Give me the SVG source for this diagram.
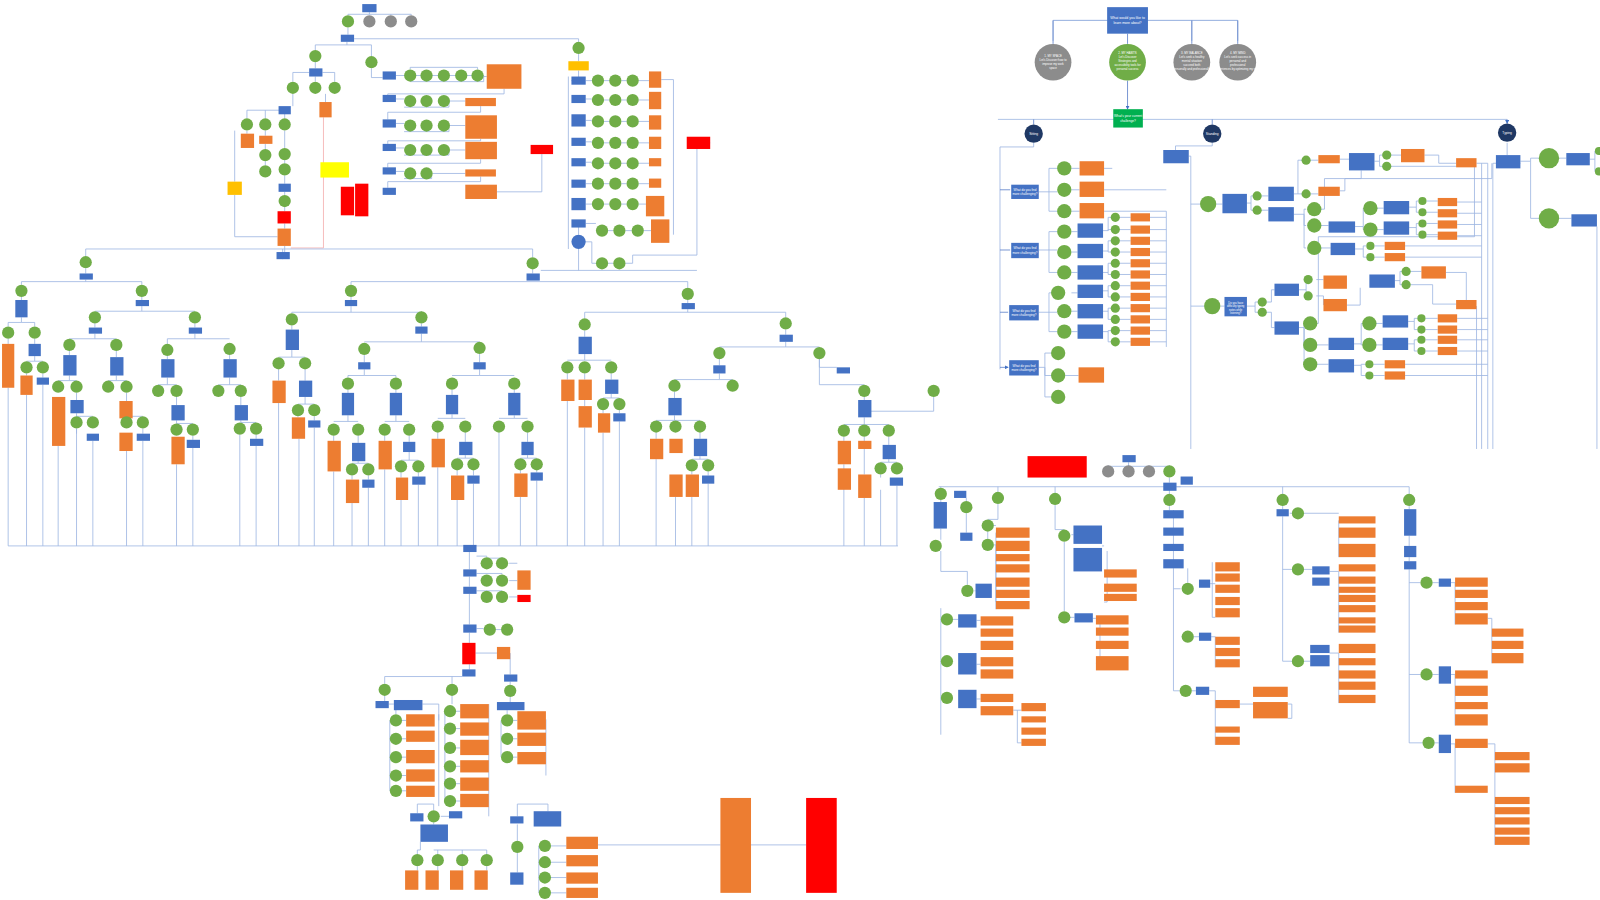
<svg xmlns="http://www.w3.org/2000/svg" width="1600" height="900" viewBox="0 0 1600 900">
<defs>
<style>
.b{fill:#4472C4}.o{fill:#ED7D31}.g{fill:#70AD47}.k{fill:#8C8C8C}.n{fill:#1F3864}.r{fill:#FF0000}.y{fill:#FFFF00}.au{fill:#FFC000}.gg{fill:#00B050}
.c{fill:none;stroke:#9DB5E2;stroke-width:.8}.ca{fill:none;stroke:#5B7FC9;stroke-width:.8;marker-end:url(#a)}.p{fill:none;stroke:#F4B6B6;stroke-width:.9}
.t{font-family:"Liberation Sans",Arial,sans-serif;fill:#fff;text-anchor:middle}.tk{font-family:"Liberation Sans",Arial,sans-serif;fill:#000;text-anchor:middle}
</style>
<marker id="a" markerWidth="4" markerHeight="4" refX="3.5" refY="2" orient="auto" markerUnits="userSpaceOnUse"><path d="M0,0L4,2L0,4z" fill="#4472C4"/></marker>
</defs>
<rect width="1600" height="900" fill="#fff"/>
<g transform="scale(1.0204)">
<g id="connectors">
<!-- top-left cluster -->
<path class="c" d="M362,12V14M341,14H403M341,14V15M383,14V15M403,14V15M341,27V34M347,38H567V41M340,41V44H309V49M340,44H364V55M309,61V67M309,75V80M303,71H287V80M316,71H328V80M287,92V104M279,108H242V116M279,108V116M260,108V116M319,92V100M364,67V76H375M388,74H396M402,68V66H468V68M396,74H474V80H402M388,97H396M396,105H440V99M388,121H396M396,129H440V123M388,145H396M396,152H440V147M388,168H396M396,175H423V170M474,75H477M441,99H456M441,123H456M441,147H456M424,170H456M494,87V92H380V93M471,104V110H380V117M471,136V138H380V141M471,156V160H380V164M471,173V178H380V184M487,188H531V151M242,128V131M260,128V133M260,141V146M279,128V145M279,157V160M260,158V162M279,172V180M279,188V191M279,203V207M279,219V224M279,241V247M230,178V128M230,191V232H272"/>
<path class="p" d="M317,115V243H285"/>
<path class="c" d="M567,53V60M567,69V79H560M574,79H580M592,79H597M609,79H614M626,79H636M574,97H580M592,98H597M609,98H614M626,98H636M574,118H580M592,119H597M609,119H614M626,119H636M574,139H580M592,140H597M609,140H614M626,140H636M574,159H580M592,160H597M609,160H614M626,160H636M574,180H580M592,180H597M609,180H614M626,180H636M574,200H580M592,200H597M609,200H614M626,200H633M574,219H584M596,226H601M613,226H619M631,226H638M557,75V244M567,230V219M573,237H580V258H584M596,258H601M613,258H620V250H683V146M648,78H660V230M684,140H696M530,265H683M567,244V265"/>
<!-- tree -->
<path class="c" d="M84,244H522M84,244V251M522,244V252M277,244V254M84,263V268M522,264V268M84,274V276M21,276H139M21,276V279M139,276V279M21,291V294M139,291V294M21,311V316H8V320M21,316H34V320M8,332V337M34,332V337M34,349V354H26M34,354H42M42,366V370M26,366V368M139,300V305H93M139,305H191M93,305V305M191,305V305M93,317V321M191,317V321M93,327V332H68M93,332H114M191,327V332H164M191,332H225M164,332V337M68,344V348M114,344V350M164,349V352M225,348V352M68,368V373H57M68,373H75M114,368V373H106M114,373H124M164,370V377H155M164,377H173M225,370V377H214M225,377H236M75,385V392M124,385V393M173,389V397M236,389V397M75,405V408H91M124,410V408H140M173,412V415H189M236,412V414H251M75,420V425M140,420V425M189,427V431M251,426V430"/>
<path class="c" d="M344,276H674M344,276V279M674,276V282M344,291V294M344,300V306H286M344,306H413M286,306V307M413,306V305M286,319V323M413,317V320M286,343V350H273M286,350H299M413,327V335H357M413,335H470M273,362V373M299,362V373M357,348V355M470,347V355M357,362V368H341M357,368H388M341,370V368M388,370V368M470,362V368H443M470,368H504M299,389V396H292M299,396H308M308,408V412M292,408V409M341,382V385M388,382V385M443,382V387M504,382V385M341,407V413H327M341,413H351M388,407V413H377M388,413H401M443,406V410H429M443,410H456M504,407V410H489M504,410H517M327,427V432M351,427V434M377,427V432M401,427V433M429,424V430M456,424V433M517,424V433M351,452V454H345M351,454H361M401,443V451H393M401,451H410M456,446V449H448M456,449H464M517,446V449H510M517,449H526M345,466V470M361,466V470M393,463V468M410,463V467M448,461V466M464,461V466M510,461V464M526,461V463"/>
<path class="c" d="M674,294V297M674,303V306H573M674,306H770M573,306V312M770,306V311M573,324V330M770,323V328M573,347V353H556M573,353H599M556,366V372M599,366V372M599,386V390H591M599,390H607M573,366V372M573,392V398M591,402V405M607,402V405M770,335V340H705M770,340H803M705,352V358M803,352V360H820M705,366V372H661M705,372H718M661,384V390M661,407V412H643M661,412H686M662,412V412M643,424V430M686,424V430M686,447V450H678M686,450H694M678,462V465M694,462V466M803,352V377H847M847,377V377M847,389V392M847,409V416H827M847,416H871M871,428V436M871,450V453H863M871,453H879M863,465V468M915,389V403H847M827,428V432M847,428V465"/>
<path class="c" d="M8,380V535H880M26,387V535M42,377V535M57,437V535M75,420V535M91,432V535M124,442V535M140,432V535M173,455V535M189,439V535M235,426V535M251,437V535M273,395V535M293,430V535M308,419V535M327,462V535M345,493V535M361,478V535M377,460V535M393,490V535M410,475V535M429,458V535M448,490V535M464,474V535M489,424V535M510,487V535M526,471V535M556,393V535M573,419V535M591,424V535M607,413V535M643,450V535M662,487V535M678,487V535M694,474V535M827,455V535M847,488V535M863,480V535M879,476V535M460,535V541"/>
<!-- bottom middle -->
<path class="c" d="M460,541V558M460,565V575M467,545H477V546M492,546V547H477M467,562H492V563M467,579H492V579M499,552H507M499,569H507M499,585H507M460,582V612M467,616H474M486,617H491M460,620V630M460,651V656M466,640H487M500,640H500V661M500,668V671M377,670V663H453M443,670V663M377,682V687M381,690H386M414,690H430V706M388,694V700M394,706H398M394,724H398M394,742H398M394,760H398M394,775H398M382,706V775M430,700V790M443,682V690M447,697H451M447,714H451M447,733H451M447,751H451M447,768H451M447,785H451M436,697V785M479,690V800M500,683V688M497,696V700M503,706H507M503,724H507M503,742H507M491,706V742M535,705V760M425,794V788H409V797M432,800H440M425,806V808M412,825V833H409V837M425,833H477V837M429,833V837M453,833V837M409,849V853M429,849V853M453,849V853M477,849V853M537,795V788H507V800M507,808V824M507,836V855M528,829V875M540,829H555M540,845H555M540,860H555M540,875H555M586,828H706M736,828H790"/>
<!-- top right -->
<path class="c" d="M1032,40V20H1213V40M1168,20V40M1085,20H1032M1125,20H1213"/>
<path class="ca" d="M1032,20V43M1168,20V43M1213,20V43M1105,33V43M1105,79V107"/>
<path class="c" d="M978,117H1477"/>
<path class="ca" d="M1013,117V122M1188,117V122M1477,117V121"/>
<!-- sitting -->
<path class="c" d="M1013,140V144H980V362M1018,188H1028V165H1036M1028,188H1036M1028,188V207H1036M1050,165H1058M1050,186H1058M1050,207H1058M1018,245H1028V227H1036M1028,245H1036M1028,245V267H1036M1050,227H1056M1050,247H1056M1050,267H1056M1081,226H1086V213H1089M1086,226V225H1089M1081,246H1086V236H1089M1086,246V247H1089M1081,267H1086V258H1089M1086,267V269H1089M1097,213H1108M1097,225H1108M1097,236H1108M1097,247H1108M1097,258H1108M1097,269H1108M1097,280H1108M1097,291H1108M1097,302H1108M1097,313H1108M1097,324H1108M1097,335H1108M1018,306H1028V287H1030M1028,306H1036M1028,306V325H1036M1050,305H1056M1050,325H1056M1050,287H1056M1081,285H1086V280H1089M1086,285V291H1089M1081,305H1086V302H1089M1086,305V313H1089M1081,325H1086V324H1089M1086,325V335H1089M1018,360H1024V346H1030M1024,360V368H1030M1024,360V389H1030M1044,368H1057M1127,213H1143V340M1127,225H1143M1127,236H1143M1127,247H1143M1127,258H1143M1127,269H1143M1127,280H1143M1127,291H1143M1127,302H1143M1127,313H1143M1127,324H1143M1127,335H1143M1082,165H1090M1082,186H1143M1082,207H1143V213"/>
<path class="ca" d="M980,186H990M980,245H990M980,306H988M980,360H988"/>
<!-- standing -->
<path class="c" d="M1188,140V143H1152V147M1165,153H1167V300H1180M1167,200H1176M1192,200H1198M1222,199H1226V192H1228M1226,199V206H1228M1236,192H1243M1236,206H1243M1268,190H1272V157H1276M1272,190H1276M1284,157H1292M1284,190H1292M1313,156H1322M1313,187H1318V175H1334V167M1347,158H1352V152H1355M1352,158V163H1355M1363,152H1373M1363,163H1377V163H1427M1396,152H1410V160H1427M1268,210H1278V205H1280M1278,210V221H1280M1278,210V243H1280M1292,205H1298V175H1462V160M1292,221H1302M1292,243H1304M1328,222H1336V204H1339M1336,222V225H1339M1347,204H1356M1347,225H1356M1381,203H1388V197H1390M1388,203V208H1390M1381,223H1388V219H1390M1388,223V230H1390M1398,197H1409M1398,208H1409M1398,219H1409M1398,230H1409M1328,244H1336V241H1339M1336,244V252H1339M1347,241H1357M1347,252H1357M1428,198H1452M1428,209H1452M1428,220H1452M1428,231H1452M1377,241H1452M1377,252H1452M1447,160H1458V440M1452,160V440M1196,300H1200M1222,300H1230V296H1233M1230,300V306H1233M1241,296H1246V284H1249M1241,306H1246V321H1249M1273,284H1280V274H1282M1280,284V290H1282M1290,274H1297M1290,290H1297V299M1320,299H1333V282M1367,275H1372V266H1374M1372,275V279H1374M1382,266H1393M1382,279H1404V298H1427M1417,267H1437V294M1273,321H1278V317H1280M1278,321V338H1280M1278,321V357H1280M1288,317H1292V232H1445V160M1288,338H1302M1288,357H1302M1327,337H1334V317H1338M1334,337V338H1338M1346,317H1355M1346,338H1355M1380,315H1386V312H1389M1386,315V323H1389M1380,337H1386V333H1389M1386,337V344H1389M1397,312H1409M1397,323H1409M1397,333H1409M1397,344H1409M1327,358H1334V357H1338M1334,358V368H1338M1346,357H1357M1346,368H1357M1428,312H1458M1428,323H1458M1428,333H1458M1428,344H1458M1377,357H1458M1377,368H1458M1167,300V440M1447,300V440"/>
<!-- typing -->
<path class="c" d="M1477,140V152M1490,158H1500V155H1508M1500,158V214H1508M1528,155H1535M1528,214H1540M1558,156H1563V148M1563,156V168M1565,222V440M1490,160H1463V440"/>
<!-- bottom right -->
<path class="c" d="M1106,453V457H1086V456M1106,457H1146V456M1126,457V456M1106,457V456M1146,468V473M1153,477H1157M920,477H1381M922,477V478M978,477V482M1034,477V483M1146,477V484M1257,477V484M1381,477V484M922,490V492M922,518V529M941,485H935M947,488V491M947,503V522M978,494V509H968M968,521V528M974,515H976M974,534H976V590M976,522V597M948,573V560H922V540M955,579H956M922,596V720M922,607H922M933,607H939M957,608H961M957,651H961M957,685H961M993,696H1001M997,696V728H1001M1034,495V519H1043M1043,531V599M1050,524H1052M1080,535H1082M1085,540V590H1082M1048,605H1053M1071,606H1074M1078,606V650H1074M1146,496V500M1150,500V557M1150,577H1157M1164,571V557M1186,572H1191M1188,551V605H1191M1150,557V677M1158,624H1164M1170,624H1175M1187,624H1191V654M1150,677H1156M1168,677H1172M1185,677H1191V730M1215,690H1228M1262,690H1266V704H1262M1257,496V499M1257,506V648M1264,503H1266M1278,503H1312M1312,510V546M1257,558H1266M1278,558H1286M1303,560H1312V620M1257,648H1266M1278,648H1284M1303,640H1312V689M1381,496V499M1381,525V535M1381,546V550M1381,558V728H1394M1381,571H1392M1404,571H1410M1422,571H1426V612M1458,606H1462V650M1381,661H1392M1404,661H1410M1422,661H1426V711M1406,728H1410M1422,729H1426V777M1458,729H1465V828"/>
</g>

<!-- ========== NODES ========== -->
<g id="top-left">
<rect id="tl1" class="b" x="355" y="4" width="14" height="8"/>
<circle id="tl2" class="g" cx="341" cy="21" r="6"/>
<circle id="tl3" class="k" cx="362" cy="21" r="6"/>
<circle id="tl4" class="k" cx="383" cy="21" r="6"/>
<circle id="tl5" class="k" cx="403" cy="21" r="6"/>
<rect id="tl6" class="b" x="334" y="34" width="13" height="7"/>
<circle class="g" cx="309" cy="55" r="6"/><circle class="g" cx="364" cy="61" r="6"/>
<rect class="b" x="303" y="67" width="13" height="8"/>
<circle class="g" cx="287" cy="86" r="6"/><circle class="g" cx="309" cy="86" r="6"/><circle class="g" cx="328" cy="86" r="6"/>
<rect class="o" x="313" y="100" width="12" height="15"/>
<rect class="b" x="273" y="104" width="12" height="8"/>
<circle class="g" cx="242" cy="122" r="6"/><circle class="g" cx="260" cy="122" r="6"/><circle class="g" cx="279" cy="122" r="6"/>
<rect class="o" x="236" y="131" width="13" height="14"/><rect class="o" x="254" y="133" width="13" height="8"/>
<circle class="g" cx="260" cy="152" r="6"/><circle class="g" cx="279" cy="151" r="6"/>
<circle class="g" cx="260" cy="168" r="6"/><circle class="g" cx="279" cy="166" r="6"/>
<rect class="au" x="223" y="178" width="14" height="13"/>
<rect class="b" x="273" y="180" width="12" height="8"/>
<circle class="g" cx="279" cy="197" r="6"/>
<rect class="r" x="272" y="207" width="13" height="12"/>
<rect class="o" x="272" y="224" width="13" height="17"/>
<rect class="b" x="271" y="247" width="13" height="7"/>
<rect class="y" x="314" y="159" width="28" height="15"/>
<rect class="r" x="334" y="183" width="13" height="28"/><rect class="r" x="348" y="180" width="13" height="32"/>
<rect class="b" x="375" y="70" width="13" height="8"/><rect class="b" x="375" y="93" width="13" height="7"/><rect class="b" x="375" y="117" width="13" height="8"/><rect class="b" x="375" y="141" width="13" height="7"/><rect class="b" x="375" y="164" width="13" height="7"/><rect class="b" x="375" y="184" width="13" height="7"/>
<circle class="g" cx="402" cy="74" r="6"/><circle class="g" cx="418" cy="74" r="6"/><circle class="g" cx="435" cy="74" r="6"/><circle class="g" cx="452" cy="74" r="6"/><circle class="g" cx="468" cy="74" r="6"/>
<circle class="g" cx="402" cy="99" r="6"/><circle class="g" cx="418" cy="99" r="6"/><circle class="g" cx="435" cy="99" r="6"/>
<circle class="g" cx="402" cy="123" r="6"/><circle class="g" cx="418" cy="123" r="6"/><circle class="g" cx="435" cy="123" r="6"/>
<circle class="g" cx="402" cy="147" r="6"/><circle class="g" cx="418" cy="147" r="6"/><circle class="g" cx="435" cy="147" r="6"/>
<circle class="g" cx="402" cy="170" r="6"/><circle class="g" cx="418" cy="170" r="6"/>
<rect class="o" x="477" y="63" width="34" height="24"/><rect class="o" x="456" y="96" width="30" height="8"/><rect class="o" x="456" y="113" width="31" height="23"/><rect class="o" x="456" y="139" width="31" height="17"/><rect class="o" x="456" y="166" width="30" height="7"/><rect class="o" x="456" y="181" width="31" height="14"/>
<rect class="r" x="520" y="142" width="22" height="9"/>
</g>
<g id="top-mid">
<circle class="g" cx="567" cy="47" r="6"/>
<rect class="au" x="557" y="60" width="20" height="9"/>
<rect class="b" x="560" y="75" width="14" height="8"/><rect class="b" x="560" y="93" width="14" height="8"/><rect class="b" x="560" y="112" width="14" height="12"/><rect class="b" x="560" y="135" width="14" height="8"/><rect class="b" x="560" y="155" width="14" height="8"/><rect class="b" x="560" y="176" width="14" height="8"/><rect class="b" x="560" y="194" width="14" height="12"/><rect class="b" x="560" y="215" width="14" height="8"/>
<circle class="g" cx="586" cy="79" r="6"/><circle class="g" cx="603" cy="79" r="6"/><circle class="g" cx="620" cy="79" r="6"/>
<circle class="g" cx="586" cy="98" r="6"/><circle class="g" cx="603" cy="98" r="6"/><circle class="g" cx="620" cy="98" r="6"/>
<circle class="g" cx="586" cy="119" r="6"/><circle class="g" cx="603" cy="119" r="6"/><circle class="g" cx="620" cy="119" r="6"/>
<circle class="g" cx="586" cy="140" r="6"/><circle class="g" cx="603" cy="140" r="6"/><circle class="g" cx="620" cy="140" r="6"/>
<circle class="g" cx="586" cy="160" r="6"/><circle class="g" cx="603" cy="160" r="6"/><circle class="g" cx="620" cy="160" r="6"/>
<circle class="g" cx="586" cy="180" r="6"/><circle class="g" cx="603" cy="180" r="6"/><circle class="g" cx="620" cy="180" r="6"/>
<circle class="g" cx="586" cy="200" r="6"/><circle class="g" cx="603" cy="200" r="6"/><circle class="g" cx="620" cy="200" r="6"/>
<circle class="g" cx="590" cy="226" r="6"/><circle class="g" cx="607" cy="226" r="6"/><circle class="g" cx="625" cy="226" r="6"/>
<circle class="b" cx="567" cy="237" r="7"/>
<circle class="g" cx="590" cy="258" r="6"/><circle class="g" cx="607" cy="258" r="6"/>
<rect class="o" x="636" y="70" width="12" height="16"/><rect class="o" x="636" y="90" width="12" height="17"/><rect class="o" x="636" y="113" width="12" height="14"/><rect class="o" x="636" y="134" width="12" height="12"/><rect class="o" x="636" y="155" width="12" height="8"/><rect class="o" x="636" y="175" width="12" height="9"/><rect class="o" x="633" y="192" width="18" height="20"/><rect class="o" x="638" y="215" width="18" height="23"/>
<rect class="r" x="673" y="134" width="23" height="12"/>
</g>
<g id="tree">
<circle class="g" cx="84" cy="257" r="6"/><rect class="b" x="78" y="268" width="13" height="6"/>
<circle class="g" cx="522" cy="258" r="6"/><rect class="b" x="516" y="268" width="13" height="7"/>
<circle class="g" cx="21" cy="285" r="6"/><circle class="g" cx="139" cy="285" r="6"/>
<rect class="b" x="15" y="294" width="12" height="17"/><rect class="b" x="133" y="294" width="13" height="6"/>
<circle class="g" cx="8" cy="326" r="6"/><circle class="g" cx="34" cy="326" r="6"/>
<rect class="o" x="2" y="337" width="12" height="43"/><rect class="b" x="28" y="337" width="12" height="12"/>
<circle class="g" cx="26" cy="360" r="6"/><circle class="g" cx="42" cy="360" r="6"/>
<rect class="o" x="20" y="368" width="12" height="19"/><rect class="b" x="36" y="370" width="12" height="7"/>
<circle class="g" cx="93" cy="311" r="6"/><circle class="g" cx="191" cy="311" r="6"/>
<rect class="b" x="87" y="321" width="13" height="6"/><rect class="b" x="185" y="321" width="13" height="6"/>
<circle class="g" cx="68" cy="338" r="6"/><circle class="g" cx="114" cy="338" r="6"/><circle class="g" cx="164" cy="343" r="6"/><circle class="g" cx="225" cy="342" r="6"/>
<rect class="b" x="62" y="348" width="13" height="20"/><rect class="b" x="108" y="350" width="13" height="18"/><rect class="b" x="158" y="352" width="13" height="18"/><rect class="b" x="219" y="352" width="13" height="18"/>
<circle class="g" cx="57" cy="379" r="6"/><circle class="g" cx="75" cy="379" r="6"/><circle class="g" cx="106" cy="379" r="6"/><circle class="g" cx="124" cy="379" r="6"/><circle class="g" cx="155" cy="383" r="6"/><circle class="g" cx="173" cy="383" r="6"/><circle class="g" cx="214" cy="383" r="6"/><circle class="g" cx="236" cy="383" r="6"/>
<rect class="o" x="51" y="389" width="13" height="48"/><rect class="b" x="69" y="392" width="13" height="13"/><rect class="o" x="117" y="393" width="13" height="17"/><rect class="b" x="168" y="397" width="13" height="15"/><rect class="b" x="230" y="397" width="13" height="15"/>
<circle class="g" cx="75" cy="414" r="6"/><circle class="g" cx="91" cy="414" r="6"/><circle class="g" cx="124" cy="414" r="6"/><circle class="g" cx="140" cy="414" r="6"/><circle class="g" cx="173" cy="421" r="6"/><circle class="g" cx="189" cy="421" r="6"/><circle class="g" cx="235" cy="420" r="6"/><circle class="g" cx="251" cy="420" r="6"/>
<rect class="b" x="85" y="425" width="12" height="7"/><rect class="o" x="117" y="424" width="13" height="18"/><rect class="b" x="134" y="425" width="13" height="7"/><rect class="o" x="168" y="428" width="13" height="27"/><rect class="b" x="183" y="431" width="13" height="8"/><rect class="b" x="245" y="430" width="13" height="7"/>
<circle class="g" cx="344" cy="285" r="6"/><rect class="b" x="338" y="294" width="12" height="6"/>
<circle class="g" cx="286" cy="313" r="6"/><circle class="g" cx="413" cy="311" r="6"/>
<rect class="b" x="280" y="323" width="13" height="20"/><rect class="b" x="407" y="320" width="12" height="7"/>
<circle class="g" cx="273" cy="356" r="6"/><circle class="g" cx="299" cy="356" r="6"/><circle class="g" cx="357" cy="342" r="6"/><circle class="g" cx="470" cy="341" r="6"/>
<rect class="b" x="351" y="355" width="12" height="7"/><rect class="b" x="464" y="355" width="12" height="7"/>
<rect class="o" x="267" y="373" width="13" height="22"/><rect class="b" x="293" y="373" width="13" height="16"/>
<circle class="g" cx="341" cy="376" r="6"/><circle class="g" cx="388" cy="376" r="6"/><circle class="g" cx="443" cy="376" r="6"/><circle class="g" cx="504" cy="376" r="6"/>
<circle class="g" cx="292" cy="402" r="6"/><circle class="g" cx="308" cy="402" r="6"/>
<rect class="o" x="286" y="409" width="13" height="21"/><rect class="b" x="302" y="412" width="12" height="7"/>
<rect class="b" x="335" y="385" width="12" height="22"/><rect class="b" x="382" y="385" width="12" height="22"/><rect class="b" x="437" y="387" width="12" height="19"/><rect class="b" x="498" y="385" width="12" height="22"/>
<circle class="g" cx="327" cy="421" r="6"/><circle class="g" cx="351" cy="421" r="6"/><circle class="g" cx="377" cy="421" r="6"/><circle class="g" cx="401" cy="421" r="6"/><circle class="g" cx="429" cy="418" r="6"/><circle class="g" cx="456" cy="418" r="6"/><circle class="g" cx="489" cy="418" r="6"/><circle class="g" cx="517" cy="418" r="6"/>
<rect class="o" x="321" y="432" width="13" height="30"/><rect class="b" x="345" y="434" width="13" height="18"/><rect class="o" x="371" y="432" width="13" height="28"/><rect class="b" x="395" y="433" width="12" height="10"/><rect class="o" x="423" y="430" width="13" height="28"/><rect class="b" x="450" y="433" width="13" height="13"/><rect class="b" x="511" y="433" width="12" height="13"/>
<circle class="g" cx="345" cy="460" r="6"/><circle class="g" cx="361" cy="460" r="6"/><circle class="g" cx="393" cy="457" r="6"/><circle class="g" cx="410" cy="457" r="6"/><circle class="g" cx="448" cy="455" r="6"/><circle class="g" cx="464" cy="455" r="6"/><circle class="g" cx="510" cy="455" r="6"/><circle class="g" cx="526" cy="455" r="6"/>
<rect class="o" x="339" y="470" width="13" height="23"/><rect class="b" x="355" y="470" width="12" height="8"/><rect class="o" x="388" y="468" width="12" height="22"/><rect class="b" x="404" y="467" width="13" height="8"/><rect class="o" x="442" y="466" width="13" height="24"/><rect class="b" x="458" y="466" width="12" height="8"/><rect class="o" x="504" y="464" width="13" height="23"/><rect class="b" x="520" y="463" width="12" height="8"/>
<circle class="g" cx="674" cy="288" r="6"/><rect class="b" x="668" y="297" width="13" height="6"/>
<circle class="g" cx="573" cy="318" r="6"/><circle class="g" cx="770" cy="317" r="6"/>
<rect class="b" x="567" y="330" width="13" height="17"/><rect class="b" x="764" y="328" width="13" height="7"/>
<circle class="g" cx="556" cy="360" r="6"/><circle class="g" cx="573" cy="360" r="6"/><circle class="g" cx="599" cy="360" r="6"/>
<rect class="o" x="550" y="372" width="13" height="21"/><rect class="o" x="567" y="372" width="13" height="20"/><rect class="b" x="593" y="372" width="13" height="14"/>
<circle class="g" cx="591" cy="396" r="6"/><circle class="g" cx="607" cy="396" r="6"/>
<rect class="o" x="567" y="398" width="13" height="21"/><rect class="o" x="586" y="405" width="12" height="19"/><rect class="b" x="601" y="405" width="12" height="8"/>
<circle class="g" cx="705" cy="346" r="6"/><circle class="g" cx="803" cy="346" r="6"/>
<rect class="b" x="699" y="358" width="12" height="8"/><rect class="b" x="820" y="360" width="13" height="6"/>
<circle class="g" cx="661" cy="378" r="6"/><circle class="g" cx="718" cy="378" r="6"/>
<rect class="b" x="655" y="390" width="13" height="17"/>
<circle class="g" cx="643" cy="418" r="6"/><circle class="g" cx="662" cy="418" r="6"/><circle class="g" cx="686" cy="418" r="6"/>
<rect class="o" x="637" y="430" width="13" height="20"/><rect class="o" x="656" y="430" width="13" height="14"/><rect class="b" x="680" y="430" width="13" height="17"/>
<circle class="g" cx="678" cy="456" r="6"/><circle class="g" cx="694" cy="456" r="6"/>
<rect class="o" x="656" y="465" width="13" height="22"/><rect class="o" x="672" y="465" width="13" height="22"/><rect class="b" x="688" y="466" width="12" height="8"/>
<circle class="g" cx="847" cy="383" r="6"/><circle class="g" cx="915" cy="383" r="6"/>
<rect class="b" x="841" y="392" width="13" height="17"/>
<circle class="g" cx="827" cy="422" r="6"/><circle class="g" cx="847" cy="422" r="6"/><circle class="g" cx="871" cy="422" r="6"/>
<rect class="o" x="821" y="432" width="13" height="23"/><rect class="o" x="821" y="459" width="13" height="21"/><rect class="o" x="841" y="432" width="13" height="8"/><rect class="b" x="865" y="436" width="13" height="14"/>
<circle class="g" cx="863" cy="459" r="6"/><circle class="g" cx="879" cy="459" r="6"/>
<rect class="o" x="841" y="465" width="13" height="23"/><rect class="b" x="872" y="468" width="13" height="8"/>
</g>
<g id="bottom-mid">
<rect class="b" x="454" y="534" width="13" height="7"/>
<circle class="g" cx="477" cy="552" r="6"/><circle class="g" cx="492" cy="552" r="6"/><circle class="g" cx="477" cy="569" r="6"/><circle class="g" cx="492" cy="569" r="6"/><circle class="g" cx="477" cy="585" r="6"/><circle class="g" cx="492" cy="585" r="6"/>
<rect class="b" x="454" y="558" width="13" height="7"/><rect class="b" x="454" y="575" width="13" height="7"/>
<rect class="o" x="507" y="559" width="13" height="19"/><rect class="r" x="507" y="583" width="13" height="7"/>
<rect class="b" x="454" y="612" width="13" height="8"/>
<circle class="g" cx="480" cy="617" r="6"/><circle class="g" cx="497" cy="617" r="6"/>
<rect class="r" x="453" y="630" width="13" height="21"/><rect class="o" x="487" y="634" width="13" height="12"/>
<rect class="b" x="453" y="656" width="13" height="7"/><rect class="b" x="494" y="661" width="13" height="7"/>
<circle class="g" cx="500" cy="677" r="6"/>
<circle class="g" cx="377" cy="676" r="6"/><circle class="g" cx="443" cy="676" r="6"/>
<rect class="b" x="368" y="687" width="13" height="7"/><rect class="b" x="386" y="686" width="28" height="10"/><rect class="b" x="487" y="688" width="27" height="8"/>
<circle class="g" cx="388" cy="706" r="6"/><circle class="g" cx="388" cy="724" r="6"/><circle class="g" cx="388" cy="742" r="6"/><circle class="g" cx="388" cy="760" r="6"/><circle class="g" cx="388" cy="775" r="6"/>
<rect class="o" x="398" y="700" width="28" height="12"/><rect class="o" x="398" y="716" width="28" height="11"/><rect class="o" x="398" y="735" width="28" height="13"/><rect class="o" x="398" y="754" width="28" height="12"/><rect class="o" x="398" y="770" width="28" height="11"/>
<circle class="g" cx="441" cy="697" r="6"/><circle class="g" cx="441" cy="714" r="6"/><circle class="g" cx="441" cy="733" r="6"/><circle class="g" cx="441" cy="751" r="6"/><circle class="g" cx="441" cy="768" r="6"/><circle class="g" cx="441" cy="785" r="6"/>
<rect class="o" x="451" y="690" width="28" height="14"/><rect class="o" x="451" y="708" width="28" height="13"/><rect class="o" x="451" y="725" width="28" height="15"/><rect class="o" x="451" y="745" width="28" height="12"/><rect class="o" x="451" y="762" width="28" height="13"/><rect class="o" x="451" y="778" width="28" height="13"/>
<circle class="g" cx="497" cy="706" r="6"/><circle class="g" cx="497" cy="724" r="6"/><circle class="g" cx="497" cy="742" r="6"/>
<rect class="o" x="507" y="697" width="28" height="18"/><rect class="o" x="507" y="718" width="28" height="13"/><rect class="o" x="507" y="737" width="28" height="12"/>
<rect class="b" x="402" y="797" width="13" height="8"/><circle class="g" cx="425" cy="800" r="6"/><rect class="b" x="440" y="795" width="13" height="7"/><rect class="b" x="412" y="808" width="27" height="17"/>
<circle class="g" cx="409" cy="843" r="6"/><circle class="g" cx="429" cy="843" r="6"/><circle class="g" cx="453" cy="843" r="6"/><circle class="g" cx="477" cy="843" r="6"/>
<rect class="o" x="397" y="853" width="13" height="19"/><rect class="o" x="417" y="853" width="13" height="19"/><rect class="o" x="441" y="853" width="13" height="19"/><rect class="o" x="465" y="853" width="13" height="19"/>
<rect class="b" x="500" y="800" width="13" height="7"/><rect class="b" x="523" y="795" width="27" height="15"/>
<circle class="g" cx="507" cy="830" r="6"/><circle class="g" cx="534" cy="829" r="6"/><circle class="g" cx="534" cy="845" r="6"/><circle class="g" cx="534" cy="860" r="6"/><circle class="g" cx="534" cy="875" r="6"/>
<rect class="b" x="500" y="855" width="13" height="12"/>
<rect class="o" x="555" y="820" width="31" height="12"/><rect class="o" x="555" y="838" width="31" height="11"/><rect class="o" x="555" y="855" width="31" height="11"/><rect class="o" x="555" y="870" width="31" height="10"/>
<rect id="bigorange" class="o" x="706" y="782" width="30" height="93"/>
<rect id="bigred" class="r" x="790" y="782" width="30" height="93"/>
</g>

<g id="q-learn"><rect class="b" x="1085" y="7" width="40" height="26"/><text class="t" font-size="3.4"><tspan x="1105" y="19">What would you like to</tspan><tspan x="1105" y="23.5">learn more about?</tspan></text></g>
<g id="opt1"><circle class="k" cx="1032" cy="61" r="18"/><text class="t" font-size="2.8"><tspan x="1032" y="56">1. MY SPACE</tspan><tspan x="1032" y="60">Let's Discover how to</tspan><tspan x="1032" y="64">improve my work</tspan><tspan x="1032" y="68">space</tspan></text></g>
<g id="opt2"><circle class="g" cx="1105" cy="61" r="18"/><text class="t" font-size="2.8"><tspan x="1105" y="53">2. MY HABITS</tspan><tspan x="1105" y="57">Let's Discover</tspan><tspan x="1105" y="61">Strategies and</tspan><tspan x="1105" y="65">accessibility tools for</tspan><tspan x="1105" y="69">personal success</tspan></text></g>
<g id="opt3"><circle class="k" cx="1168" cy="61" r="18"/><text class="t" font-size="2.8"><tspan x="1168" y="53">3. MY BALANCE</tspan><tspan x="1168" y="57">Let's seek a healthy</tspan><tspan x="1168" y="61">mental situation</tspan><tspan x="1168" y="65">succeed both</tspan><tspan x="1168" y="69">personally and professionally</tspan></text></g>
<g id="opt4"><circle class="k" cx="1213" cy="61" r="18"/><text class="t" font-size="2.8"><tspan x="1213" y="53">4. MY MIND</tspan><tspan x="1213" y="57">Let's seek success in</tspan><tspan x="1213" y="61">personal and</tspan><tspan x="1213" y="65">professional</tspan><tspan x="1213" y="69">experiences by optimizing my work</tspan></text></g>
<g id="q-challenge"><rect class="gg" x="1091" y="107" width="29" height="18"/><text class="t" font-size="3.2"><tspan x="1105.5" y="115">What's your current</tspan><tspan x="1105.5" y="119.5">challenge?</tspan></text></g>
<g id="sitting"><circle class="n" cx="1013" cy="131" r="9"/><text class="t" x="1013" y="132.2" font-size="3.2">Sitting</text></g>
<g id="standing"><circle class="n" cx="1188" cy="131" r="9"/><text class="t" x="1188" y="132.2" font-size="3.2">Standing</text></g>
<g id="typing"><circle class="n" cx="1477" cy="130" r="9"/><text class="t" x="1477" y="131.2" font-size="3.2">Typing</text></g>

<g id="sit-nodes">
<g id="s1"><rect class="b" x="991" y="181" width="27" height="14"/><text class="t" font-size="3"><tspan x="1004.5" y="187">What do you find</tspan><tspan x="1004.5" y="191">more challenging?</tspan></text></g>
<g id="s2"><rect class="b" x="991" y="238" width="27" height="15"/><text class="t" font-size="3"><tspan x="1004.5" y="244.5">What do you find</tspan><tspan x="1004.5" y="248.5">more challenging?</tspan></text></g>
<g id="s3"><rect class="b" x="989" y="299" width="29" height="15"/><text class="t" font-size="3"><tspan x="1003.5" y="305.5">What do you find</tspan><tspan x="1003.5" y="309.5">more challenging?</tspan></text></g>
<g id="s4"><rect class="b" x="989" y="353" width="29" height="15"/><text class="t" font-size="3"><tspan x="1003.5" y="359.5">What do you find</tspan><tspan x="1003.5" y="363.5">more challenging?</tspan></text></g>
<circle class="g" cx="1043" cy="165" r="7"/><circle class="g" cx="1043" cy="186" r="7"/><circle class="g" cx="1043" cy="207" r="7"/>
<rect class="o" x="1058" y="158" width="24" height="14"/><rect class="o" x="1058" y="178" width="24" height="15"/><rect class="o" x="1058" y="199" width="24" height="15"/>
<circle class="g" cx="1043" cy="227" r="7"/><circle class="g" cx="1043" cy="247" r="7"/><circle class="g" cx="1043" cy="267" r="7"/>
<rect class="b" x="1056" y="219" width="25" height="14"/><rect class="b" x="1056" y="239" width="25" height="14"/><rect class="b" x="1056" y="260" width="25" height="14"/>
<circle class="g" cx="1037" cy="287" r="7"/><circle class="g" cx="1043" cy="305" r="7"/><circle class="g" cx="1043" cy="325" r="7"/>
<rect class="b" x="1056" y="279" width="25" height="13"/><rect class="b" x="1056" y="298" width="25" height="14"/><rect class="b" x="1056" y="318" width="25" height="14"/>
<circle class="g" cx="1037" cy="346" r="7"/><circle class="g" cx="1037" cy="368" r="7"/><circle class="g" cx="1037" cy="389" r="7"/>
<rect class="o" x="1057" y="360" width="25" height="15"/>
<circle class="g" cx="1093" cy="213" r="4.5"/><circle class="g" cx="1093" cy="225" r="4.5"/><circle class="g" cx="1093" cy="236" r="4.5"/><circle class="g" cx="1093" cy="247" r="4.5"/><circle class="g" cx="1093" cy="258" r="4.5"/><circle class="g" cx="1093" cy="269" r="4.5"/><circle class="g" cx="1093" cy="280" r="4.5"/><circle class="g" cx="1093" cy="291" r="4.5"/><circle class="g" cx="1093" cy="302" r="4.5"/><circle class="g" cx="1093" cy="313" r="4.5"/><circle class="g" cx="1093" cy="324" r="4.5"/><circle class="g" cx="1093" cy="335" r="4.5"/>
<rect class="o" x="1108" y="209" width="19" height="8"/><rect class="o" x="1108" y="221" width="19" height="8"/><rect class="o" x="1108" y="232" width="19" height="8"/><rect class="o" x="1108" y="243" width="19" height="8"/><rect class="o" x="1108" y="254" width="19" height="8"/><rect class="o" x="1108" y="265" width="19" height="8"/><rect class="o" x="1108" y="276" width="19" height="8"/><rect class="o" x="1108" y="287" width="19" height="8"/><rect class="o" x="1108" y="298" width="19" height="8"/><rect class="o" x="1108" y="309" width="19" height="8"/><rect class="o" x="1108" y="320" width="19" height="8"/><rect class="o" x="1108" y="331" width="19" height="8"/>
</g>

<g id="stand-nodes">
<rect class="b" x="1140" y="147" width="25" height="13"/>
<circle class="g" cx="1184" cy="200" r="8"/><rect class="b" x="1198" y="190" width="24" height="19"/>
<circle class="g" cx="1232" cy="192" r="4.5"/><circle class="g" cx="1232" cy="206" r="4.5"/>
<rect class="b" x="1243" y="183" width="25" height="14"/><rect class="b" x="1243" y="203" width="25" height="14"/>
<circle class="g" cx="1280" cy="157" r="4.5"/><circle class="g" cx="1280" cy="190" r="4.5"/>
<rect class="o" x="1292" y="152" width="21" height="8"/><rect class="o" x="1292" y="183" width="21" height="9"/>
<rect class="b" x="1322" y="150" width="25" height="17"/>
<circle class="g" cx="1359" cy="152" r="4.5"/><circle class="g" cx="1359" cy="163" r="4.5"/>
<rect class="o" x="1373" y="146" width="23" height="13"/><rect class="o" x="1427" y="155" width="20" height="9"/>
<circle class="g" cx="1288" cy="205" r="7"/><circle class="g" cx="1288" cy="221" r="7"/><circle class="g" cx="1288" cy="243" r="7"/>
<rect class="b" x="1302" y="217" width="26" height="11"/><rect class="b" x="1304" y="238" width="24" height="12"/>
<circle class="g" cx="1343" cy="204" r="7"/><circle class="g" cx="1343" cy="225" r="7"/>
<rect class="b" x="1356" y="197" width="25" height="13"/><rect class="b" x="1356" y="217" width="25" height="13"/>
<circle class="g" cx="1394" cy="197" r="4"/><circle class="g" cx="1394" cy="208" r="4"/><circle class="g" cx="1394" cy="219" r="4"/><circle class="g" cx="1394" cy="230" r="4"/>
<rect class="o" x="1409" y="194" width="19" height="8"/><rect class="o" x="1409" y="205" width="19" height="8"/><rect class="o" x="1409" y="216" width="19" height="8"/><rect class="o" x="1409" y="227" width="19" height="8"/>
<circle class="g" cx="1343" cy="241" r="4"/><circle class="g" cx="1343" cy="252" r="4"/>
<rect class="o" x="1357" y="237" width="20" height="8"/><rect class="o" x="1357" y="248" width="20" height="8"/>
<circle class="g" cx="1188" cy="300" r="8"/>
<g id="st-q"><rect class="b" x="1200" y="291" width="22" height="19"/><text class="t" font-size="2.6"><tspan x="1211" y="297.5">Do you have</tspan><tspan x="1211" y="301">difficulty typing</tspan><tspan x="1211" y="304.5">notes while</tspan><tspan x="1211" y="308">listening?</tspan></text></g>
<circle class="g" cx="1237" cy="296" r="4.5"/><circle class="g" cx="1237" cy="306" r="4.5"/>
<rect class="b" x="1249" y="278" width="24" height="12"/><rect class="b" x="1249" y="315" width="24" height="13"/>
<circle class="g" cx="1282" cy="274" r="4.5"/><circle class="g" cx="1282" cy="290" r="4.5"/>
<rect class="o" x="1297" y="270" width="23" height="13"/><rect class="o" x="1297" y="293" width="23" height="12"/>
<rect class="b" x="1342" y="269" width="25" height="13"/>
<circle class="g" cx="1378" cy="266" r="4.5"/><circle class="g" cx="1378" cy="279" r="4.5"/>
<rect class="o" x="1393" y="261" width="24" height="12"/><rect class="o" x="1427" y="294" width="20" height="9"/>
<circle class="g" cx="1284" cy="317" r="7"/><circle class="g" cx="1284" cy="338" r="7"/><circle class="g" cx="1284" cy="357" r="7"/>
<rect class="b" x="1302" y="331" width="25" height="12"/><rect class="b" x="1302" y="352" width="25" height="13"/>
<circle class="g" cx="1342" cy="317" r="7"/><circle class="g" cx="1342" cy="338" r="7"/>
<rect class="b" x="1355" y="309" width="25" height="12"/><rect class="b" x="1355" y="331" width="25" height="12"/>
<circle class="g" cx="1393" cy="312" r="4"/><circle class="g" cx="1393" cy="323" r="4"/><circle class="g" cx="1393" cy="333" r="4"/><circle class="g" cx="1393" cy="344" r="4"/>
<rect class="o" x="1409" y="308" width="19" height="8"/><rect class="o" x="1409" y="319" width="19" height="8"/><rect class="o" x="1409" y="329" width="19" height="8"/><rect class="o" x="1409" y="340" width="19" height="8"/>
<circle class="g" cx="1342" cy="357" r="4"/><circle class="g" cx="1342" cy="368" r="4"/>
<rect class="o" x="1357" y="353" width="20" height="8"/><rect class="o" x="1357" y="364" width="20" height="8"/>
</g>
<g id="type-nodes">
<rect class="b" x="1466" y="152" width="24" height="13"/>
<circle class="g" cx="1518" cy="155" r="10"/><circle class="g" cx="1518" cy="214" r="10"/>
<rect class="b" x="1535" y="150" width="23" height="12"/><rect class="b" x="1540" y="210" width="25" height="12"/>
<circle class="g" cx="1567" cy="148" r="4"/><circle class="g" cx="1567" cy="168" r="4"/>
</g>

<g id="bottom-right">
<rect id="warn" class="r" x="1007" y="447" width="58" height="21"/>
<rect class="b" x="1100" y="446" width="13" height="7"/>
<circle class="k" cx="1086" cy="462" r="6"/><circle class="k" cx="1106" cy="462" r="6"/><circle class="k" cx="1126" cy="462" r="6"/><circle class="g" cx="1146" cy="462" r="6"/>
<rect class="b" x="1140" y="473" width="13" height="8"/><rect class="b" x="1157" y="467" width="12" height="8"/>
<circle class="g" cx="922" cy="484" r="6"/><rect class="b" x="915" y="492" width="13" height="26"/><circle class="g" cx="917" cy="535" r="6"/>
<rect class="b" x="935" y="481" width="12" height="7"/><circle class="g" cx="947" cy="497" r="6"/><rect class="b" x="941" y="522" width="12" height="8"/>
<circle class="g" cx="978" cy="488" r="6"/><circle class="g" cx="968" cy="515" r="6"/><circle class="g" cx="968" cy="534" r="6"/>
<rect class="o" x="976" y="517" width="33" height="10"/><rect class="o" x="976" y="530" width="33" height="10"/><rect class="o" x="976" y="543" width="33" height="7"/><rect class="o" x="976" y="553" width="33" height="8"/><rect class="o" x="976" y="566" width="33" height="9"/><rect class="o" x="976" y="578" width="33" height="8"/><rect class="o" x="976" y="589" width="33" height="8"/>
<circle class="g" cx="948" cy="579" r="6"/><rect class="b" x="956" y="572" width="16" height="14"/>
<circle class="g" cx="928" cy="607" r="6"/><rect class="b" x="939" y="602" width="18" height="13"/>
<rect class="o" x="961" y="604" width="32" height="9"/><rect class="o" x="961" y="616" width="32" height="8"/><rect class="o" x="961" y="628" width="32" height="9"/>
<circle class="g" cx="928" cy="648" r="6"/><rect class="b" x="939" y="640" width="18" height="21"/>
<rect class="o" x="961" y="644" width="32" height="9"/><rect class="o" x="961" y="656" width="32" height="9"/>
<circle class="g" cx="928" cy="684" r="6"/><rect class="b" x="939" y="676" width="18" height="18"/>
<rect class="o" x="961" y="680" width="32" height="8"/><rect class="o" x="961" y="692" width="32" height="9"/>
<rect class="o" x="1001" y="689" width="24" height="8"/><rect class="o" x="1001" y="702" width="24" height="6"/><rect class="o" x="1001" y="713" width="24" height="7"/><rect class="o" x="1001" y="724" width="24" height="7"/>
<circle class="g" cx="1034" cy="489" r="6"/><circle class="g" cx="1043" cy="525" r="6"/>
<rect class="b" x="1052" y="515" width="28" height="18"/><rect class="b" x="1052" y="537" width="28" height="23"/>
<rect class="o" x="1082" y="558" width="32" height="8"/><rect class="o" x="1082" y="572" width="32" height="8"/><rect class="o" x="1082" y="582" width="32" height="7"/>
<circle class="g" cx="1043" cy="605" r="6"/><rect class="b" x="1053" y="601" width="18" height="9"/>
<rect class="o" x="1074" y="603" width="32" height="9"/><rect class="o" x="1074" y="615" width="32" height="8"/><rect class="o" x="1074" y="628" width="32" height="8"/><rect class="o" x="1074" y="643" width="32" height="14"/>
<circle class="g" cx="1146" cy="490" r="6"/>
<rect class="b" x="1140" y="500" width="20" height="8"/><rect class="b" x="1140" y="517" width="20" height="8"/><rect class="b" x="1140" y="533" width="20" height="7"/><rect class="b" x="1140" y="548" width="20" height="9"/>
<circle class="g" cx="1164" cy="577" r="6"/><rect class="b" x="1175" y="568" width="11" height="8"/>
<rect class="o" x="1191" y="551" width="24" height="9"/><rect class="o" x="1191" y="562" width="24" height="8"/><rect class="o" x="1191" y="573" width="24" height="8"/><rect class="o" x="1191" y="585" width="24" height="8"/><rect class="o" x="1191" y="596" width="24" height="9"/>
<circle class="g" cx="1164" cy="624" r="6"/><rect class="b" x="1175" y="620" width="12" height="8"/>
<rect class="o" x="1191" y="624" width="24" height="8"/><rect class="o" x="1191" y="635" width="24" height="8"/><rect class="o" x="1191" y="646" width="24" height="8"/>
<circle class="g" cx="1162" cy="677" r="6"/><rect class="b" x="1172" y="673" width="13" height="8"/>
<rect class="o" x="1191" y="686" width="24" height="8"/><rect class="o" x="1191" y="712" width="24" height="6"/><rect class="o" x="1191" y="722" width="24" height="8"/>
<rect class="o" x="1228" y="673" width="34" height="10"/><rect class="o" x="1228" y="688" width="34" height="16"/>
<circle class="g" cx="1257" cy="490" r="6"/><rect class="b" x="1251" y="499" width="12" height="7"/><circle class="g" cx="1272" cy="503" r="6"/>
<rect class="o" x="1312" y="506" width="36" height="7"/><rect class="o" x="1312" y="517" width="36" height="10"/><rect class="o" x="1312" y="533" width="36" height="13"/>
<circle class="g" cx="1272" cy="558" r="6"/><rect class="b" x="1286" y="555" width="17" height="8"/><rect class="b" x="1286" y="566" width="17" height="8"/>
<rect class="o" x="1312" y="553" width="36" height="7"/><rect class="o" x="1312" y="565" width="36" height="7"/><rect class="o" x="1312" y="575" width="36" height="6"/><rect class="o" x="1312" y="583" width="36" height="7"/><rect class="o" x="1312" y="593" width="36" height="7"/><rect class="o" x="1312" y="605" width="36" height="6"/><rect class="o" x="1312" y="613" width="36" height="7"/>
<circle class="g" cx="1272" cy="648" r="6"/><rect class="b" x="1284" y="632" width="19" height="8"/><rect class="b" x="1284" y="642" width="19" height="11"/>
<rect class="o" x="1312" y="631" width="36" height="9"/><rect class="o" x="1312" y="645" width="36" height="7"/><rect class="o" x="1312" y="657" width="36" height="8"/><rect class="o" x="1312" y="668" width="36" height="8"/><rect class="o" x="1312" y="681" width="36" height="8"/>
<circle class="g" cx="1381" cy="490" r="6"/>
<rect class="b" x="1376" y="499" width="12" height="26"/><rect class="b" x="1376" y="535" width="12" height="11"/><rect class="b" x="1376" y="550" width="12" height="8"/>
<circle class="g" cx="1398" cy="571" r="6"/><rect class="b" x="1410" y="567" width="12" height="8"/>
<rect class="o" x="1426" y="566" width="32" height="9"/><rect class="o" x="1426" y="578" width="32" height="8"/><rect class="o" x="1426" y="590" width="32" height="8"/><rect class="o" x="1426" y="601" width="32" height="11"/>
<rect class="o" x="1462" y="616" width="31" height="8"/><rect class="o" x="1462" y="628" width="31" height="8"/><rect class="o" x="1462" y="640" width="31" height="10"/>
<circle class="g" cx="1398" cy="661" r="6"/><rect class="b" x="1410" y="653" width="12" height="17"/>
<rect class="o" x="1426" y="657" width="32" height="8"/><rect class="o" x="1426" y="672" width="32" height="10"/><rect class="o" x="1426" y="688" width="32" height="7"/><rect class="o" x="1426" y="700" width="32" height="11"/>
<circle class="g" cx="1400" cy="728" r="6"/><rect class="b" x="1410" y="720" width="12" height="18"/>
<rect class="o" x="1426" y="724" width="32" height="9"/><rect class="o" x="1465" y="737" width="34" height="8"/><rect class="o" x="1465" y="748" width="34" height="9"/><rect class="o" x="1426" y="770" width="32" height="7"/>
<rect class="o" x="1465" y="781" width="34" height="7"/><rect class="o" x="1465" y="791" width="34" height="7"/><rect class="o" x="1465" y="801" width="34" height="7"/><rect class="o" x="1465" y="811" width="34" height="7"/><rect class="o" x="1465" y="820" width="34" height="8"/>
</g>
</g>
</svg>
